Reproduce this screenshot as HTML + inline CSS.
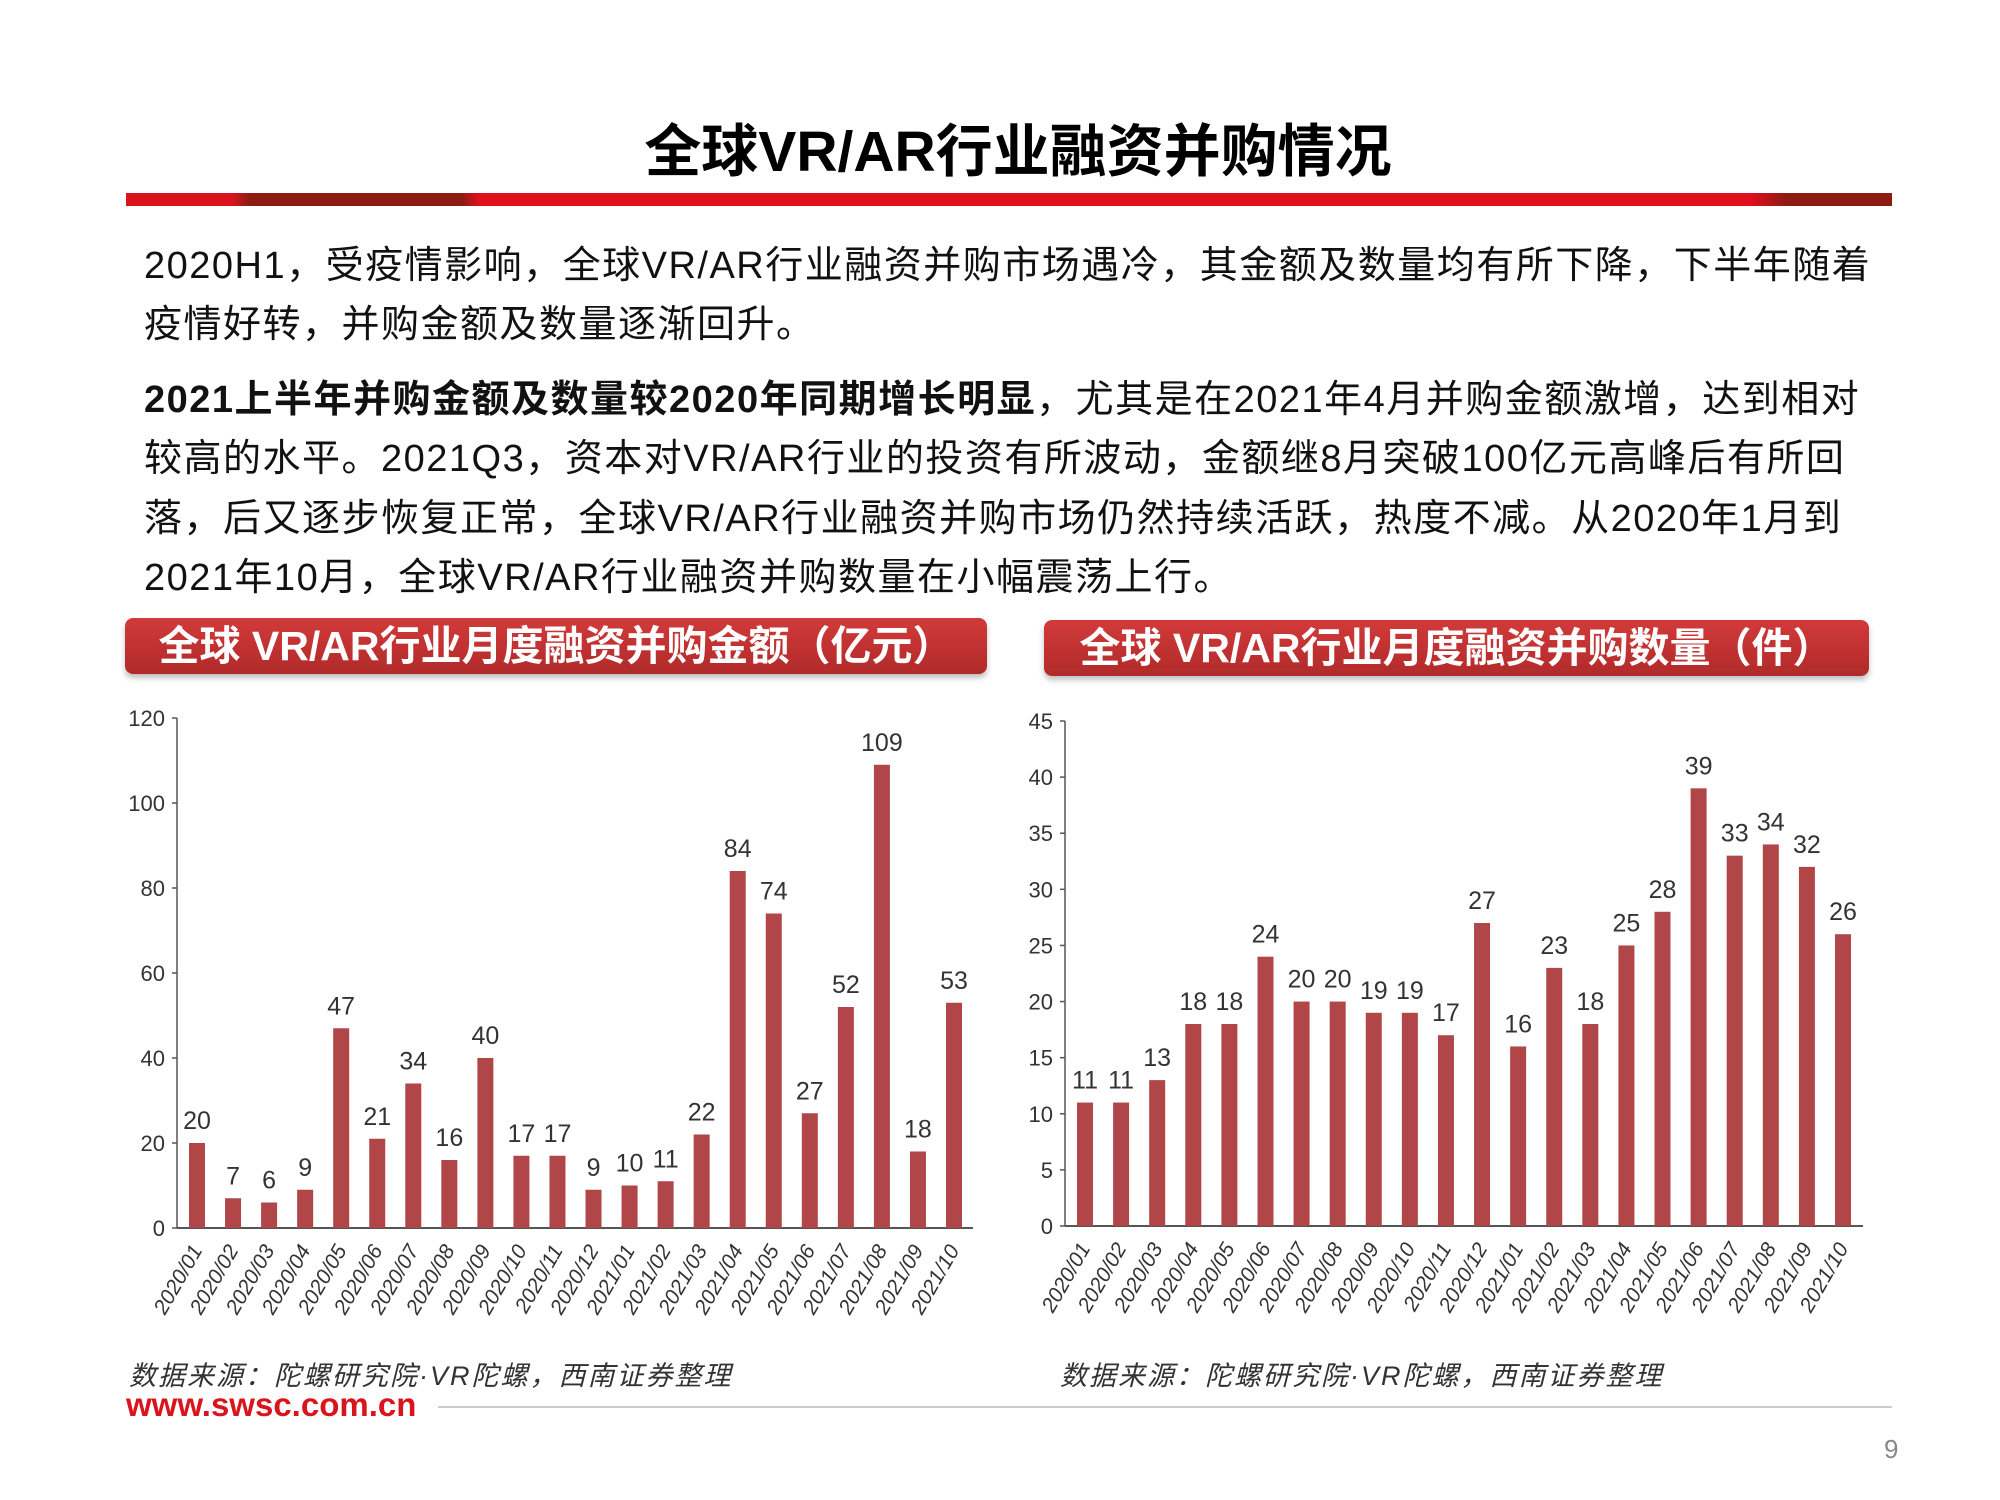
<!DOCTYPE html>
<html><head><meta charset="utf-8">
<style>
html,body{margin:0;padding:0;background:#fff;}
body{width:2000px;height:1500px;position:relative;overflow:hidden;font-family:"Liberation Sans","Noto Sans CJK SC",sans-serif;}
.abs{position:absolute;}
.line{position:absolute;left:144px;font-size:38px;letter-spacing:1.5px;color:#111;white-space:nowrap;}
.hdr{position:absolute;height:56px;border-radius:8px;background:linear-gradient(#d23a3a,#b12a2a);box-shadow:0 4px 6px rgba(0,0,0,.25);color:#fff;font-weight:bold;font-size:41px;line-height:56px;text-align:center;white-space:nowrap;}
.src{position:absolute;top:1354px;font-size:27px;letter-spacing:2px;font-style:italic;color:#333;white-space:nowrap;}
</style></head>
<body>
<div class="abs" style="left:0;width:2036px;top:106px;text-align:center;font-size:57px;font-weight:bold;color:#000;">全球VR/AR行业融资并购情况</div>
<div class="abs" style="left:126px;top:193px;width:1766px;height:13px;background:linear-gradient(90deg,#d9141c 0%,#d9141c 6%,#8e1a14 7%,#8e1a14 19%,#e0101c 20%,#e0101c 92%,#8e1a14 94%,#8e1a14 100%);"></div>

<div class="line" style="top:234px;">2020H1，受疫情影响，全球VR/AR行业融资并购市场遇冷，其金额及数量均有所下降，下半年随着</div>
<div class="line" style="top:293px;">疫情好转，并购金额及数量逐渐回升。</div>
<div class="line" style="top:368px;"><b>2021上半年并购金额及数量较2020年同期增长明显</b>，尤其是在2021年4月并购金额激增，达到相对</div>
<div class="line" style="top:427px;">较高的水平。2021Q3，资本对VR/AR行业的投资有所波动，金额继8月突破100亿元高峰后有所回</div>
<div class="line" style="top:487px;">落，后又逐步恢复正常，全球VR/AR行业融资并购市场仍然持续活跃，热度不减。从2020年1月到</div>
<div class="line" style="top:546px;">2021年10月，全球VR/AR行业融资并购数量在小幅震荡上行。</div>

<div class="hdr" style="left:125px;top:618px;width:862px;">全球 VR/AR行业月度融资并购金额（亿元）</div>
<div class="hdr" style="left:1044px;top:620px;width:825px;">全球 VR/AR行业月度融资并购数量（件）</div>

<svg class="abs" style="left:0;top:0" width="2000" height="1500">
<g id="left"></g><g id="right"></g>
</svg>

<div class="src" style="left:129px;">数据来源：陀螺研究院·VR陀螺，西南证券整理</div>
<div class="src" style="left:1060px;">数据来源：陀螺研究院·VR陀螺，西南证券整理</div>
<div class="abs" style="left:126px;top:1386px;font-size:33px;color:#d9141c;font-weight:bold;">www.swsc.com.cn</div>
<div class="abs" style="left:438px;top:1406px;width:1454px;height:2px;background:#ccc;"></div>
<div class="abs" style="left:1884px;top:1434px;font-size:26px;color:#888;">9</div>

<script>
const categories = ["2020/01","2020/02","2020/03","2020/04","2020/05","2020/06","2020/07","2020/08","2020/09","2020/10","2020/11","2020/12","2021/01","2021/02","2021/03","2021/04","2021/05","2021/06","2021/07","2021/08","2021/09","2021/10"];
const amountValues = [20,7,6,9,47,21,34,16,40,17,17,9,10,11,22,84,74,27,52,109,18,53];
const countValues = [11,11,13,18,18,24,20,20,19,19,17,27,16,23,18,25,28,39,33,34,32,26];
const amountTicks = [0,20,40,60,80,100,120];
const countTicks = [0,5,10,15,20,25,30,35,40,45];

const NS = "http://www.w3.org/2000/svg";
function mk(parent, tag, attrs, text){
  const e = document.createElementNS(NS, tag);
  for (const k in attrs) e.setAttribute(k, attrs[k]);
  if (text !== undefined) e.textContent = text;
  parent.appendChild(e);
  return e;
}
function drawChart(g, cfg, values, ticks, prefix){
  const yMax = ticks[ticks.length-1];
  const y = v => cfg.y0 - (v / yMax) * (cfg.y0 - cfg.yTop);
  const x = i => cfg.x0 + i * (cfg.x1 - cfg.x0) / (categories.length - 1);
  const axis = mk(g,'line',{x1:cfg.axisX,y1:cfg.yTop,x2:cfg.axisX,y2:cfg.y0,stroke:'#555','stroke-width':1.5});
  
  
  const xaxis = mk(g,'line',{x1:cfg.axisX,y1:cfg.y0,x2:cfg.axisEnd,y2:cfg.y0,stroke:'#555','stroke-width':2});
  
  
  ticks.forEach(t => {
    mk(g,'line',{x1:cfg.axisX-5,y1:y(t),x2:cfg.axisX,y2:y(t),stroke:'#555','stroke-width':1.5});
    const tl = mk(g,'text',{x:cfg.axisX-12,y:y(t)+8,'text-anchor':'end','font-size':22,fill:'#333','font-family':'Liberation Sans Narrow, Liberation Sans, sans-serif'}, String(t));
    
    
  });
  values.forEach((v,i) => {
    const cx = x(i);
    const bar = mk(g,'rect',{x:cx-8,y:y(v),width:16,height:cfg.y0-y(v),fill:'#b04648'});
    
    
    const lab = mk(g,'text',{x:cx,y:y(v)-14,'text-anchor':'middle','font-size':25,fill:'#333','font-family':'Liberation Sans Narrow, Liberation Sans, sans-serif'}, String(v));
    
    
    const cl = mk(g,'text',{x:cx+6,y:cfg.y0+22,'text-anchor':'end','font-size':21,fill:'#333','font-style':'italic','font-family':'Liberation Sans, sans-serif',transform:'rotate(-60 '+(cx+6)+' '+(cfg.y0+22)+')'}, categories[i]);
    
    
  });
}
drawChart(document.getElementById('left'), {axisX:177,axisEnd:973,y0:1228,yTop:718,x0:197,x1:954}, amountValues, amountTicks, 'amount');
drawChart(document.getElementById('right'), {axisX:1065,axisEnd:1863,y0:1226,yTop:721,x0:1085,x1:1843}, countValues, countTicks, 'count');
</script>
</body></html>
